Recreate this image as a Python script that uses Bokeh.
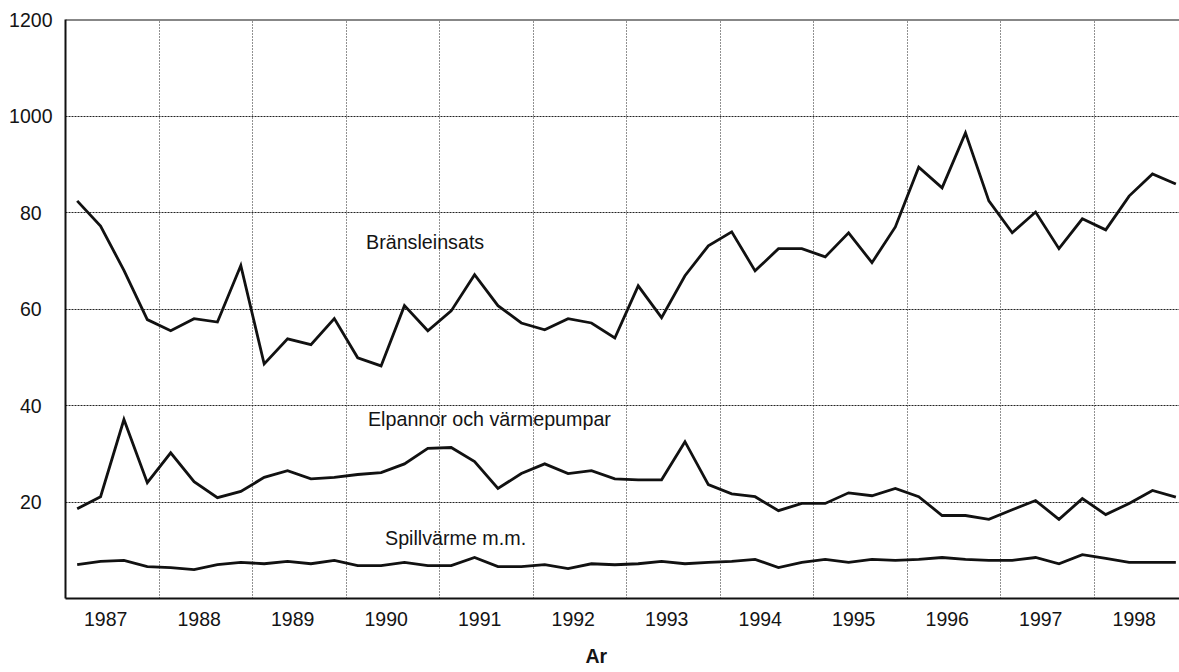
from bokeh.plotting import figure
from bokeh.models import FixedTicker, Span, Label, Title
from bokeh.embed import file_html
from bokeh.resources import INLINE

years = list(range(1987, 1999))

bransle = [82.4, 77.2, 68.0, 57.8, 55.5, 58.0, 57.3, 69.0,
           48.6, 53.8, 52.6, 58.0, 49.9, 48.2, 60.7, 55.5,
           59.6, 67.1, 60.7, 57.1, 55.7, 58.0, 57.1, 54.0,
           64.8, 58.2, 66.9, 73.1, 76.0, 67.9, 72.5, 72.5,
           70.8, 75.8, 69.6, 77.0, 89.4, 85.1, 96.5, 82.4,
           75.8, 80.1, 72.5, 78.7, 76.4, 83.4, 88.0, 85.9]

elpannor = [18.6, 21.1, 37.1, 24.0, 30.2, 24.2, 20.9, 22.2,
            25.1, 26.5, 24.8, 25.1, 25.7, 26.1, 27.9, 31.1,
            31.3, 28.4, 22.8, 25.9, 27.9, 25.9, 26.5, 24.8,
            24.6, 24.6, 32.5, 23.6, 21.7, 21.1, 18.2, 19.7,
            19.7, 21.9, 21.3, 22.8, 21.1, 17.2, 17.2, 16.4,
            18.4, 20.3, 16.4, 20.7, 17.4, 19.7, 22.4, 21.0]

spillvarme = [7.0, 7.7, 7.9, 6.6, 6.4, 6.0, 7.0, 7.5,
              7.2, 7.7, 7.2, 7.9, 6.8, 6.8, 7.5, 6.8,
              6.8, 8.5, 6.6, 6.6, 7.0, 6.2, 7.2, 7.0,
              7.2, 7.7, 7.2, 7.5, 7.7, 8.1, 6.4, 7.5,
              8.1, 7.5, 8.1, 7.9, 8.1, 8.5, 8.1, 7.9,
              7.9, 8.5, 7.2, 9.1, 8.3, 7.5, 7.5, 7.5]

series_names = ["Bränsleinsats", "Elpannor och värmepumpar", "Spillvärme m.m."]
y_ticks = [0, 20, 40, 60, 80, 100, 120]
y_tick_labels = ["", "20", "40", "60", "80", "1000", "1200"]
x_title = "Ar"

FONT = "Liberation Sans"
TXT = "#141414"
NB2 = "\u00a0\u00a0"  # pads two-digit labels so they sit centred like in the original

x = [years[0] + (i + 0.5) / 4 for i in range(len(bransle))]

p = figure(width=1179, height=672, output_backend="svg", toolbar_location=None,
           x_range=(1987, 1998.914), y_range=(0, 120),
           min_border_left=65, min_border_right=0, min_border_top=19, min_border_bottom=74)
p.outline_line_color = None
p.background_fill_color = "white"
p.border_fill_color = "white"

for ys in (bransle, elpannor, spillvarme):
    p.line(x, ys, line_color="#111111", line_width=2.8, line_join="miter")

# axes
xa = p.xaxis[0]
label_pos = [yr + 0.43 for yr in years]
xa.ticker = FixedTicker(ticks=label_pos)
xa.major_label_overrides = {pos: str(yr) for pos, yr in zip(label_pos, years)}
xa.major_tick_line_color = None
xa.minor_tick_line_color = None
xa.major_tick_out = 0
xa.major_tick_in = 0
xa.major_label_standoff = 13
xa.axis_line_width = 2
xa.axis_line_color = "#111111"
xa.major_label_text_font = FONT
xa.major_label_text_font_size = "19.5px"
xa.major_label_text_color = TXT
# invisible spacer so the title below sits lower, as in the original
xa.axis_label = "\u00a0"
xa.axis_label_text_font_size = "9px"
xa.axis_label_standoff = 0

ya = p.yaxis[0]
ya.ticker = FixedTicker(ticks=y_ticks)
ya.major_label_overrides = {t: (l if len(l) != 2 else NB2 + l + NB2)
                            for t, l in zip(y_ticks, y_tick_labels)}
ya.major_tick_line_color = None
ya.minor_tick_line_color = None
ya.major_tick_out = 0
ya.major_tick_in = 0
ya.major_label_standoff = 13
ya.axis_line_width = 2
ya.axis_line_color = "#111111"
ya.major_label_text_font = FONT
ya.major_label_text_font_size = "19.5px"
ya.major_label_text_color = TXT

# grids
p.xgrid.ticker = FixedTicker(ticks=years[1:])
p.xgrid.grid_line_color = "#222222"
p.xgrid.grid_line_dash = "1 2"
p.xgrid.grid_line_width = 1
p.ygrid.ticker = FixedTicker(ticks=[20, 40, 60, 80, 100])
p.ygrid.grid_line_color = "#222222"
p.ygrid.grid_line_dash = "2 1"
p.ygrid.grid_line_width = 1

p.add_layout(Span(location=120, dimension="width", line_color="#111111", line_width=2))

# series labels
for name, xx, yy in zip(series_names, [1990.214, 1990.235, 1990.417], [73.8, 37.3, 12.6]):
    p.add_layout(Label(x=xx, y=yy, text=name, text_font=FONT, text_font_size="19.7px",
                       text_color=TXT, text_align="left", text_baseline="middle"))

p.add_layout(Title(text=x_title, align="left", offset=520, standoff=2,
                   text_font=FONT, text_font_size="19.5px", text_font_style="bold",
                   text_color=TXT), "below")

open("out.html", "w").write(file_html(p, INLINE))
